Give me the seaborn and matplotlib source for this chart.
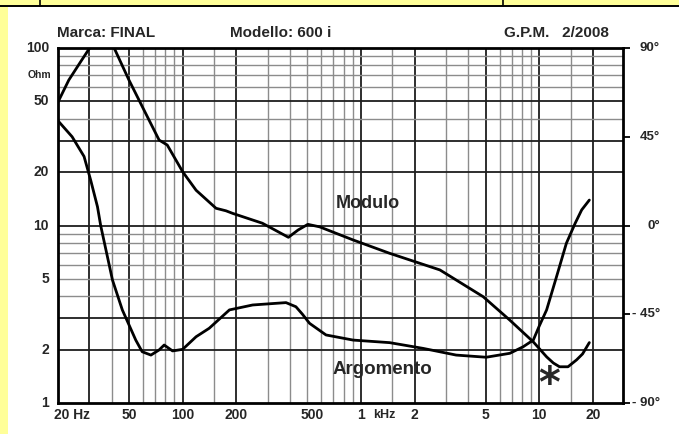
import matplotlib
matplotlib.use("Agg")
import matplotlib.pyplot as plt
import numpy as np
import pandas as pd
import seaborn as sns
from matplotlib.transforms import blended_transform_factory

# ---------------- data ----------------
mod_freq = [20, 23, 26.8, 30.1, 35, 41.3, 50, 62, 73.8, 82, 100, 119, 154, 175, 191,
            280, 392, 444, 504, 586, 904, 1450, 2772, 4850, 6840, 9260, 11000, 12000, 13000,
            14500, 16200, 17500, 19100]
mod_ohm = [49.6, 66, 83.7, 100, 140, 100, 66, 42.9, 30.3, 28.4, 20.1, 15.8, 12.5, 12.1, 11.7,
           10.3, 8.58, 9.43, 10.15, 9.83, 8.29, 6.97, 5.62, 3.97, 2.93, 2.21, 1.82, 1.68, 1.60,
           1.60, 1.75, 1.89, 2.19]

arg_freq = [20, 24, 28, 30.5, 33.3, 34.7, 40.4, 45.9, 54.6, 59.3, 66.4, 73.8, 78.8, 87.8, 100, 119,
            141, 183, 247, 380, 432, 470, 515, 637, 904, 1450, 2230, 3420, 5040, 6840, 8120, 9260,
            10000, 11000, 12500, 14200, 15900, 17300, 19100]
arg_deg = [53.1, 45.0, 35, 23, 9.5, 0, -27.6, -42.8, -58.1, -64, -65.7, -63.1, -60.6, -63.6, -62.8, -56.4,
           -52.1, -42.8, -40.3, -39.1, -41.2, -45, -49.6, -55.5, -58.1, -59.4, -62.3, -65.7, -66.8, -64.8, -61.5, -58.1,
           -51, -42.8, -26, -9, 1.1, 7.9, 12.9]

x_tick_vals = [20, 50, 100, 200, 500, 1000, 2000, 5000, 10000, 20000]
x_tick_labels = ["20 Hz", "50", "100", "200", "500", "1", "2", "5", "10", "20"]
y_tick_vals = [100, 50, 20, 10, 5, 2, 1]
y_tick_labels = ["100", "50", "20", "10", "5", "2", "1"]
ph_tick_vals = [90, 45, 0, -45, -90]
ph_tick_labels = ["90°", "45°", "0°", "- 45°", "- 90°"]

grid_x_major = [30, 50, 100, 200, 1000, 2000, 5000, 10000, 20000]
grid_x_minor = [40, 60, 70, 80, 90, 150, 300, 400, 500, 600, 700, 800, 900,
                1500, 3000, 4000, 6000, 7000, 8000, 9000, 15000]
grid_y_major = [2, 3, 10, 20, 30, 50]
grid_y_minor = [4, 5, 6, 7, 8, 9, 40, 60, 70, 80, 90]

mod_df = pd.DataFrame({"freq": mod_freq, "ohm": mod_ohm})
arg_df = pd.DataFrame({"freq": arg_freq, "deg": arg_deg})

# ---------------- style ----------------
sns.set_theme(style="white")
plt.rcParams["font.family"] = ["Liberation Sans", "DejaVu Sans"]
plt.rcParams["font.weight"] = "bold"

W, H = 679, 434
fig = plt.figure(figsize=(W / 100, H / 100), dpi=100)
fig.patch.set_facecolor("white")

def fx(x):
    return x / W

def fy(y):
    return 1 - y / H

# yellow page border (top strip and left strip) with the cell lines
fig.add_artist(plt.Rectangle((0, fy(5.5)), 1, 5.5 / H, transform=fig.transFigure,
                             facecolor="#FFFF99", edgecolor="none", zorder=0))
fig.add_artist(plt.Rectangle((0, 0), fx(7.5), 1, transform=fig.transFigure,
                             facecolor="#FFFF99", edgecolor="none", zorder=0))
fig.add_artist(plt.Line2D([0, 1], [fy(6), fy(6)], transform=fig.transFigure, color="black", lw=1.4))
fig.add_artist(plt.Line2D([fx(40), fx(40)], [fy(0), fy(6)], transform=fig.transFigure, color="black", lw=1.2))
fig.add_artist(plt.Line2D([fx(503), fx(503)], [fy(0), fy(6)], transform=fig.transFigure, color="black", lw=1.2))

L, R, T, B = 58, 623, 48, 403
ax = fig.add_axes([fx(L), fy(B), (R - L) / W, (B - T) / H])
ax.set_facecolor("none")
ax.set_xscale("log")
ax.set_yscale("log")
ax.set_xlim(20, 29500)
ax.set_ylim(1, 100)

ax.set_xticks(grid_x_major)
ax.set_xticks(grid_x_minor, minor=True)
ax.set_yticks(grid_y_major)
ax.set_yticks(grid_y_minor, minor=True)
ax.tick_params(which="both", length=0, labelbottom=False, labelleft=False)
ax.grid(which="major", color="#1e1e1e", lw=1.3)
ax.grid(which="minor", color="#8c8c8c", lw=1.0)
for s in ax.spines.values():
    s.set_color("black")
    s.set_linewidth(2.0)

sns.lineplot(data=mod_df, x="freq", y="ohm", ax=ax, color="black", linewidth=2.0,
             estimator=None, sort=False)
ax.set_xlabel("")
ax.set_ylabel("")

ax2 = ax.twinx()
ax2.set_ylim(-90, 90)
ax2.set_yticks(ph_tick_vals)
ax2.set_yticklabels([""] * len(ph_tick_vals))
ax2.tick_params(axis="y", direction="out", length=5, width=1.3, color="black", right=True)
ax2.grid(False)
for s in ax2.spines.values():
    s.set_visible(False)
sns.lineplot(data=arg_df, x="freq", y="deg", ax=ax2, color="black", linewidth=2.0,
             estimator=None, sort=False)
ax2.set_xlabel("")
ax2.set_ylabel("")

# ---------------- texts ----------------
tfs = 11
fig.text(fx(57), fy(33), "Marca: FINAL", fontsize=tfs, fontweight="bold", va="center", ha="left")
fig.text(fx(230), fy(33), "Modello: 600 i", fontsize=tfs, fontweight="bold", va="center", ha="left")
fig.text(fx(504), fy(33), "G.P.M.   2/2008", fontsize=tfs, fontweight="bold", va="center", ha="left")

# left ohm labels
ytr = blended_transform_factory(fig.transFigure, ax.transData)
for v, lab in zip(y_tick_vals, y_tick_labels):
    ax.text(fx(49), v, lab, transform=ytr, ha="right", va="center", fontsize=10, fontweight="bold")
fig.text(fx(51), fy(75), "Ohm", ha="right", va="center", fontsize=7.5, fontweight="bold")

# right phase labels
ptr = blended_transform_factory(fig.transFigure, ax2.transData)
for v, lab in zip(ph_tick_vals, ph_tick_labels):
    ax2.text(fx(660), v, lab, transform=ptr, ha="right", va="center", fontsize=9.5, fontweight="bold")

# bottom frequency labels
xtr = blended_transform_factory(ax.transData, fig.transFigure)
for v, lab in zip(x_tick_vals, x_tick_labels):
    xv = v * 1.2 if lab == "20 Hz" else v
    if lab == "500":
        xv = v * 1.07
    ax.text(xv, fy(415), lab, transform=xtr, ha="center", va="center", fontsize=10, fontweight="bold")
ax.text(1000 * 1.35, fy(415), "kHz", transform=xtr, ha="center", va="center", fontsize=9, fontweight="bold")

fig.text(fx(336), fy(204), "Modulo", ha="left", va="center", fontsize=13, fontweight="bold")
fig.text(fx(333), fy(370), "Argomento", ha="left", va="center", fontsize=13.5, fontweight="bold")
fig.text(fx(549), fy(385), "*", ha="center", va="center", fontsize=30, fontweight="bold",
         family="DejaVu Sans")

fig.savefig("out.png", dpi=100)
